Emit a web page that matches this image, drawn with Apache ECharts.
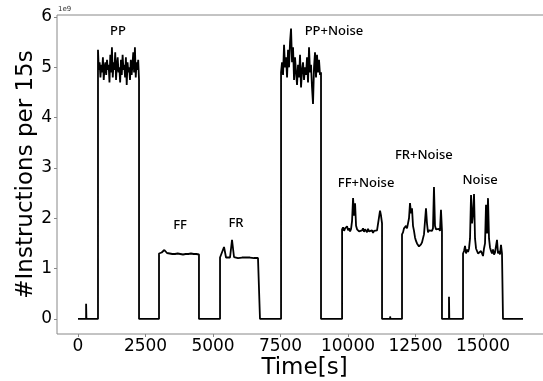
<!DOCTYPE html>
<html>
<head>
<meta charset="utf-8">
<script src="https://cdn.jsdelivr.net/npm/echarts@6/dist/echarts.min.js"></script>
<style>html,body{margin:0;padding:0;background:#fff}#c{width:543px;height:381px}</style>
</head>
<body>
<div id="c"></div>
<script>
// ---- data (values in units of 1e9 instructions per 15 s) ----
const xTicks = [0, 2500, 5000, 7500, 10000, 12500, 15000];
const yTicks = [0, 1, 2, 3, 4, 5, 6];

const segNames  = ['PP', 'FF', 'FR', 'PP+Noise', 'FF+Noise', 'FR+Noise', 'Noise'];
const segStarts = [740, 3000, 5260, 7520, 9780, 12000, 14260];
const segEnds   = [2260, 4480, 6740, 9000, 11260, 13480, 15740];

const ppValues = [5.35,4.95,5.1,4.8,5.05,4.9,5.2,4.75,5.0,5.1,4.85,5.15,4.95,5.05,4.7,5.25,4.9,5.4,4.8,5.1,4.95,5.3,4.75,5.05,5.2,4.9,5.0,4.7,5.15,4.85,5.25,4.95,5.05,4.8,5.2,4.65,5.1,4.9,5.0,4.75,5.15,4.85,5.05,5.3,4.9,5.4,4.8,5.1,4.95,5.15,4.75];
const ffValues = [1.3,1.32,1.37,1.31,1.3,1.29,1.29,1.3,1.29,1.28,1.29,1.29,1.3,1.29,1.29,1.28];
const frValues = [1.22,1.23,1.43,1.22,1.23,1.22,1.57,1.23,1.22,1.21,1.22,1.22,1.21,1.22,1.21,1.22,1.21,1.21,1.22,1.21,1.21];
const ppNoiseValues = [4.9,5.1,4.85,5.45,5.0,5.2,4.8,5.35,5.0,5.5,5.77,5.1,5.4,4.75,5.2,4.9,4.65,5.05,4.8,5.25,4.6,4.95,5.1,4.75,5.0,4.85,5.2,4.7,5.4,4.9,5.05,4.6,4.27,5.0,5.3,4.8,5.25,4.9,5.15,4.85,4.9];
const ffNoiseValues = [1.78,1.82,1.75,1.8,1.77,1.84,1.76,1.8,1.74,1.79,1.95,2.4,2.05,2.3,1.85,1.78,1.8,1.74,1.77,1.72,1.76,1.8,1.73,1.78,1.75,1.72,1.79,1.74,1.77,1.73,1.76,1.71,1.75,1.74,1.72,1.76,1.74,1.73,2.15,2.05,1.9];
const frNoiseValues = [1.68,1.72,1.8,1.78,1.85,1.8,1.9,2.0,2.3,2.1,2.2,1.85,1.75,1.62,1.55,1.5,1.47,1.44,1.43,1.48,1.52,1.6,1.68,1.7,2.2,1.9,1.72,1.76,1.73,1.78,1.75,1.8,2.62,1.85,1.78,1.8,1.76,1.79,1.75,2.17,1.75];
const noiseValues = [1.3,1.35,1.45,1.3,1.38,1.33,1.4,1.6,2.46,1.9,2.1,2.48,1.6,1.4,1.35,1.3,1.33,1.28,1.35,1.3,1.25,1.4,1.5,2.27,1.7,2.4,1.6,1.42,1.35,1.3,1.38,1.28,1.32,1.3,1.57,1.3,1.35,1.28,1.47,1.3,1.28];
const segValues = [ppValues, ffValues, frValues, ppNoiseValues, ffNoiseValues, frNoiseValues, noiseValues];

// isolated spikes on the idle baseline: time, height
const spikeTimes  = [300, 11560, 13740];
const spikeHeights = [0.3, 0.05, 0.44];
const runStart = 0, runEnd = 16480;

// label anchors (data coords)
const labelTimes  = [1480, 3780, 5850, 9480, 10670, 12810, 14890];
const labelLevels = [5.71, 1.87, 1.91, 5.71, 2.70, 3.26, 2.76];

// ---- build the trace ----
const events = [];
segStarts.forEach((s, k) => events.push({t: s, k: k, type: 'seg'}));
spikeTimes.forEach((s, k) => events.push({t: s, k: k, type: 'spike'}));
events.sort((a, b) => a.t - b.t);

const trace = [[runStart, 0]];
events.forEach(ev => {
  if (ev.type === 'spike') {
    trace.push([ev.t, 0], [ev.t, spikeHeights[ev.k]], [ev.t + 12, 0]);
  } else {
    const vals = segValues[ev.k], s = segStarts[ev.k], e = segEnds[ev.k];
    const step = (e - s) / (vals.length - 1);
    trace.push([s, 0]);
    vals.forEach((v, i) => trace.push([s + i * step, v]));
    trace.push([e, 0]);
  }
});
trace.push([runEnd, 0]);

const labelData = segNames.map((n, i) => [labelTimes[i], labelLevels[i], n]);

const chart = echarts.init(document.getElementById('c'), null, {renderer: 'canvas'});
chart.setOption({
  animation: false,
  backgroundColor: '#fff',
  grid: {left: 57, top: 15, width: 495, bottom: 47, show: true, borderColor: '#888', borderWidth: 1,
         backgroundColor: 'transparent', containLabel: false, outerBoundsMode: 'none'},
  xAxis: {
    type: 'value', min: -778, max: 17555,
    name: 'Time[s]', nameLocation: 'middle', nameGap: 23, nameMoveOverlap: false,
    nameTextStyle: {fontFamily: 'DejaVu Sans', fontSize: 23, color: '#000'},
    axisLine: {show: false, onZero: false},
    axisTick: {show: true, length: 3, lineStyle: {color: '#888'}, customValues: xTicks},
    axisLabel: {customValues: xTicks, formatter: v => String(v), fontFamily: 'DejaVu Sans', fontSize: 17, color: '#000', margin: 4},
    splitLine: {show: false}
  },
  yAxis: {
    type: 'value', min: -0.3, max: 6.04,
    name: '#Instructions per 15s', nameLocation: 'middle', nameGap: 19, nameRotate: 90, nameMoveOverlap: false,
    nameTextStyle: {fontFamily: 'DejaVu Sans', fontSize: 23, color: '#000'},
    axisLine: {show: false, onZero: false},
    axisTick: {show: true, length: 3, lineStyle: {color: '#888'}, customValues: yTicks},
    axisLabel: {customValues: yTicks, formatter: v => String(v), fontFamily: 'DejaVu Sans', fontSize: 17, color: '#000', margin: 5},
    splitLine: {show: false}
  },
  graphic: [{type: 'text', left: 58, top: 6, style: {text: '1e9', fontSize: 7, fill: '#333', fontFamily: 'DejaVu Sans'}}],
  series: [
    {type: 'line', data: trace, showSymbol: false, symbol: 'none', lineStyle: {color: '#000', width: 1.8}, clip: true},
    {type: 'scatter', data: labelData, symbolSize: 0, silent: true, itemStyle: {opacity: 1},
     label: {show: true, position: 'inside', formatter: p => p.value[2], fontFamily: 'Noto Sans', fontWeight: 500, fontSize: 13, color: '#000', opacity: 1}}
  ]
});
</script>
</body>
</html>
